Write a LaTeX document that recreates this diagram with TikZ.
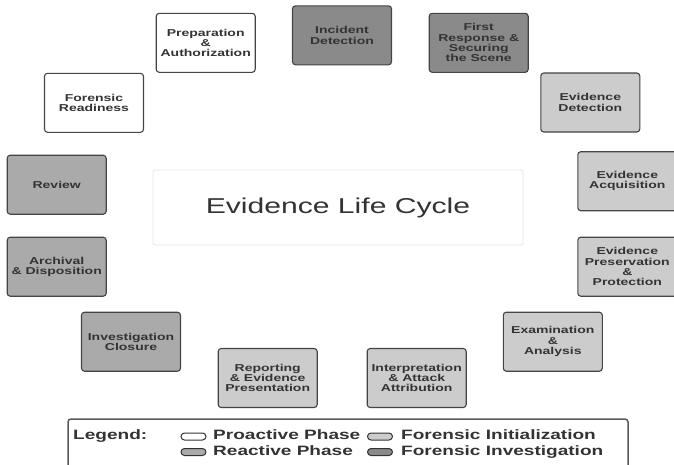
\documentclass[tikz,border=0pt]{standalone}
\usepackage{fontspec}
\setmainfont{Liberation Sans}[FakeStretch=1.4]
\definecolor{ink}{HTML}{333333}
\definecolor{edge}{HTML}{444444}
\definecolor{proactive}{HTML}{FFFFFF}
\definecolor{initial}{HTML}{CCCCCC}
\definecolor{reactive}{HTML}{AAAAAA}
\definecolor{investig}{HTML}{8A8A8A}
\tikzset{
  phase/.style={draw=edge, line width=1.1pt, rounded corners=3pt,
    minimum width=99pt, minimum height=59pt, inner sep=0pt, align=center,
    text=ink, font=\bfseries\fontsize{10}{10.3}\selectfont},
  pro/.style={phase, fill=proactive},
  ini/.style={phase, fill=initial},
  rea/.style={phase, fill=reactive},
  inv/.style={phase, fill=investig},
  swatch/.style={draw=ink, line width=1pt, rounded corners=3.5pt,
    minimum width=25pt, minimum height=7pt, inner sep=0pt},
  legtext/.style={anchor=base west, inner sep=0pt, text=ink,
    font=\bfseries\fontsize{13.6}{15}\selectfont}
}
\begin{document}
\begin{tikzpicture}[x=1pt,y=-1pt]
\useasboundingbox (0,0) rectangle (674,464);

% centre title
\node[draw=black!10, line width=0.8pt, rounded corners=2pt, fill=white,
      minimum width=370pt, minimum height=75pt, text=ink,
      font=\fontsize{21.5}{25}\selectfont] (title) at (338,207.5) {Evidence Life Cycle};

% phases around the cycle
\node[pro] (prep)   at (205.7,42.8)  {Preparation\\\&\\Authorization};
\node[inv] (incid)  at (342,35.3)    {Incident\\Detection};
\node[inv] (first)  at (478.7,42.8)  {First\\Response \&\\Securing\\the Scene};
\node[ini] (edet)   at (590.3,102.5) {Evidence\\Detection};
\node[pro] (ready)  at (94,102.8)    {Forensic\\Readiness};
\node[rea] (review) at (56.7,184.7)  {Review};
\node[ini] (acq)    at (627.3,181.2) {Evidence\\Acquisition};
\node[ini] (pres)   at (627.3,266.7) {Evidence\\Preservation\\\&\\Protection};
\node[rea] (arch)   at (56.7,266.7)  {Archival\\\& Disposition};
\node[rea] (close)  at (131,341.7)   {Investigation\\Closure};
\node[ini] (report) at (267.7,378)   {Reporting\\\& Evidence\\Presentation};
\node[ini] (interp) at (416.7,378)   {Interpretation\\\& Attack\\Attribution};
\node[ini] (exam)   at (552.8,341.7) {Examination\\\&\\Analysis};

% legend
\node[draw=black!65, line width=1.5pt, rounded corners=3pt, fill=white,
      minimum width=560pt, minimum height=60pt] (legend) at (348,449) {};
\node[legtext] (legtitle) at (73,439.5) {Legend:};
\node[swatch, fill=proactive] (swpro) at (193.5,436.5) {};
\node[legtext] (lpro) at (213,439.5) {Proactive Phase};
\node[swatch, fill=initial] (swini) at (380,436.5) {};
\node[legtext] (lini) at (401,439.5) {Forensic Initialization};
\node[swatch, fill=reactive] (swrea) at (193.5,452) {};
\node[legtext] (lrea) at (213,455) {Reactive Phase};
\node[swatch, fill=investig] (swinv) at (380,452) {};
\node[legtext] (linv) at (401,455) {Forensic Investigation};
\end{tikzpicture}
\end{document}
